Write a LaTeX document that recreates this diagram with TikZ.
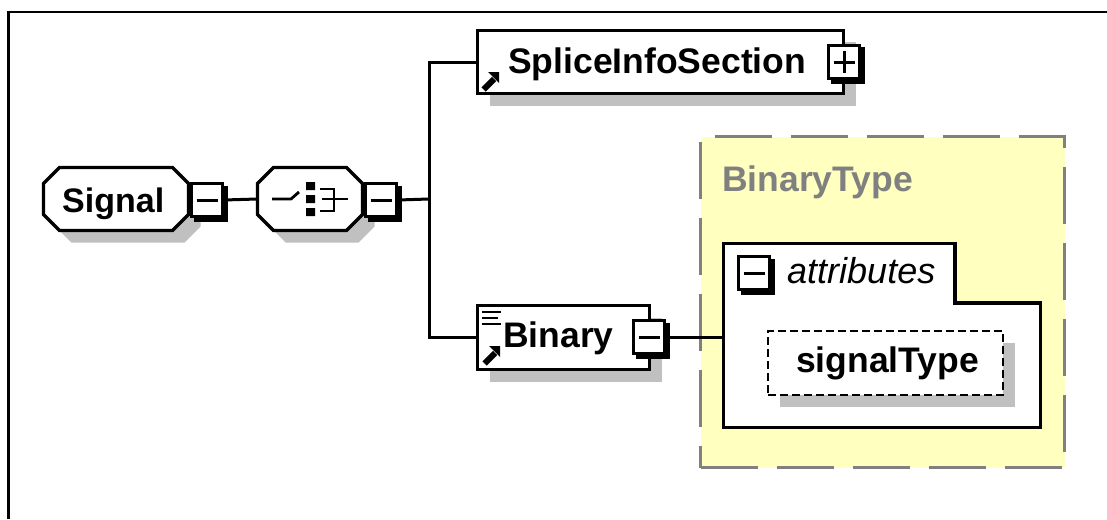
\documentclass[tikz,border=0pt]{standalone}
\usepackage{fontspec}
\setmainfont{Liberation Sans}
\usetikzlibrary{shadows}
\definecolor{shgray}{HTML}{C0C0C0}
\definecolor{ctyellow}{HTML}{FFFFC0}
\definecolor{ctgray}{HTML}{808080}
% octagon outline path: left, top, right, bottom
\newcommand\octpath[4]{({#1+16},#2) -- ({#3-16},#2) -- (#3,{#2+16}) -- (#3,{#4-16}) -- ({#3-16},#4) -- ({#1+16},#4) -- (#1,{#4-16}) -- (#1,{#2+16}) -- cycle}
\begin{document}
\begin{tikzpicture}[x=1pt,y=-1pt,
  lbl/.style={font=\fontsize{35.5}{42}\selectfont\bfseries, anchor=base west, inner sep=0pt},
  elshadow/.style={general shadow={fill=shgray, shadow xshift=12pt, shadow yshift=-12pt}},
  octline/.style={draw=black, line width=3.2pt, fill=white},
  octshadow/.style={fill=shgray, shift={(12,12)}},
  anchorbox/.style={rectangle, inner sep=0pt},
  elbox/.style={rectangle, draw, line width=3.2pt, fill=white, inner sep=0pt, elshadow},
  toggle/.style={rectangle, draw, line width=3pt, fill=white, inner sep=0pt,
    minimum width=31pt, minimum height=33pt,
    general shadow={fill=black, draw=black, line width=3pt, shadow xshift=3.5pt, shadow yshift=-3.5pt}},
  minusbox/.style={toggle, path picture={\draw[line width=3pt]
    ([xshift=-10.5pt]path picture bounding box.center) -- ([xshift=10.5pt]path picture bounding box.center);}},
  plusbox/.style={toggle, path picture={\draw[line width=3pt]
    ([xshift=-10.5pt]path picture bounding box.center) -- ([xshift=10.5pt]path picture bounding box.center)
    ([yshift=-10.5pt]path picture bounding box.center) -- ([yshift=10.5pt]path picture bounding box.center);}},
  conn/.style={line width=3pt},
  icon/.style={line width=2.8pt},
  linkarrow/.pic={\fill (7,-20) -- (18,-20) -- (18,-9) -- cycle; \draw[line width=6pt] (2.5,-2.5) -- (13,-13);}
]
\useasboundingbox (0,0) rectangle (1107,519);
\fill[white] (0,0) rectangle (1107,519);
% frame
\draw[line width=2.8pt] (8.5,519) -- (8.5,12) -- (1107,12);

% complex type container
\node[draw=ctgray, fill=ctyellow, line width=3pt, dash pattern=on 57pt off 19pt,
  minimum width=364pt, minimum height=331pt, inner sep=0pt] (bintype) at (882.5,302) {};
\node[lbl, text=ctgray] (tbintype) at (722,191) {BinaryType};

% attributes box
\draw[line width=3.2pt, fill=white] (723.5,243.5) -- (955,243.5) -- (955,303) -- (1040.5,303)
  -- (1040.5,427.5) -- (723.5,427.5) -- cycle;
\coordinate (attrsin) at (722,337);
\node[minusbox] (attrminus) at (754,273) {};
\node[lbl, font=\fontsize{36}{42}\selectfont\itshape] (tattrs) at (787,283) {attributes};

% signalType attribute
\node[rectangle, draw, line width=2.5pt, dash pattern=on 8pt off 4pt, fill=white, inner sep=0pt,
  minimum width=235pt, minimum height=64pt, elshadow] (sigtype) at (885.5,363) {};
\node[lbl] (tsigtype) at (796,372) {signalType};

% Signal element
\fill[octshadow] \octpath{43.5}{167.5}{188.5}{230.5};
\draw[octline] \octpath{43.5}{167.5}{188.5}{230.5};
\node[anchorbox, minimum width=145pt, minimum height=63pt] (signal) at (116,199) {};
\node[lbl, font=\fontsize{34}{40}\selectfont\bfseries] (tsignal) at (62,212) {Signal};
\node[minusbox] (sigminus) at (207,200) {};

% sequence compositor
\fill[octshadow] \octpath{257.5}{167.5}{362.5}{230.5};
\draw[octline] \octpath{257.5}{167.5}{362.5}{230.5};
\node[anchorbox, minimum width=105pt, minimum height=63pt] (seq) at (310,199) {};
\draw[icon] (272,199) -- (291,199) -- (299,192);
\fill (306,182) rectangle (315,190) (306,195) rectangle (315,203) (306,208) rectangle (315,216);
\draw[icon] (320,189) -- (334,189) -- (334,211) -- (320,211) (322,199) -- (348,199);
\node[minusbox] (seqminus) at (381,200) {};

% SpliceInfoSection
\node[elbox, minimum width=366pt, minimum height=63pt] (splice) at (660.5,62) {};
\node[lbl] (tsplice) at (508,73) {SpliceInfoSection};
\pic at (481,92) {linkarrow};
\node[plusbox] (spliceplus) at (844,62) {};

% Binary
\node[elbox, minimum width=172pt, minimum height=64pt] (binary) at (563.5,337.5) {};
\node[lbl] (tbinary) at (503,347) {Binary};
\draw[icon] (482,312) -- (501,312) (482,318) -- (498,318) (482,324) -- (501,324);
\pic at (482,366) {linkarrow};
\node[minusbox] (binminus) at (649,337) {};

% connectors
\coordinate (jn) at (429,199);
\draw[conn] (sigminus.east) -- (seq.west);
\draw[conn] (seqminus.east) -- (jn);
\draw[conn] (jn) |- (splice.west);
\draw[conn] (jn) |- (binary.west);
\draw[conn] (binminus.east) -- (attrsin);
\end{tikzpicture}
\end{document}
